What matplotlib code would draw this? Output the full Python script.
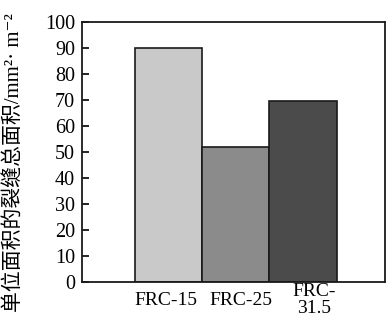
import matplotlib
matplotlib.use("Agg")
import matplotlib.pyplot as plt
import matplotlib.transforms as mtransforms

# data
categories = ["FRC-15", "FRC-25", "FRC-\n31.5"]
crack_area = [90, 52, 69.5]
bar_colors = ["#c9c9c9", "#8b8b8b", "#4b4b4b"]
yticks = list(range(0, 101, 10))

plt.rcParams['font.family'] = ['Liberation Serif', 'DejaVu Serif']

fig = plt.figure(figsize=(3.86, 3.21), dpi=100)
ax = fig.add_axes([82 / 386, 1 - 282 / 321, 303 / 386, 260 / 321])

x = range(len(categories))
ax.bar(x, crack_area, width=1.0, color=bar_colors, edgecolor="#1a1a1a", linewidth=1.2)

ax.set_xlim(-1.29, 3.22)
ax.set_ylim(0, 100)
ax.set_yticks(yticks)
ax.set_yticklabels([str(t) for t in yticks], fontsize=14.5)
ax.tick_params(axis='y', direction='in', length=5, width=1.2, pad=5)
ax.set_xticks(list(x))
ax.set_xticklabels(categories, fontsize=14, linespacing=1.0, va='center')
ax.tick_params(axis='x', length=0, pad=13)

# labels in the original sit a bit apart from the bar centres
shifts = [-3, 5, 11]
for lab, dx in zip(ax.get_xticklabels(), shifts):
    off = mtransforms.ScaledTranslation(dx / 100, 0, fig.dpi_scale_trans)
    lab.set_transform(lab.get_transform() + off)

for s in ax.spines.values():
    s.set_linewidth(1.3)
    s.set_color("#1a1a1a")

ax.set_ylabel("单位面积的裂缝总面积/mm²· m⁻²", fontsize=15,
              family=['Liberation Serif', 'Noto Sans CJK SC', 'DejaVu Sans'])
ax.yaxis.set_label_coords(-0.19, 0.46)

fig.savefig("out.png", dpi=100)
